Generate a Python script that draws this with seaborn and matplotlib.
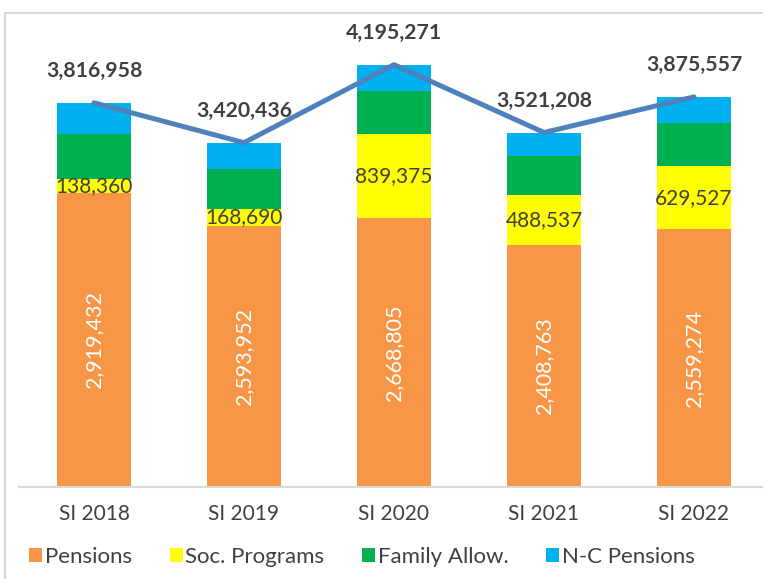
import numpy as np
import pandas as pd
import matplotlib.pyplot as plt
import seaborn as sns
from matplotlib.patches import Patch, Rectangle

# values
years = ["SI 2018", "SI 2019", "SI 2020", "SI 2021", "SI 2022"]
pensions = [2919432, 2593952, 2668805, 2408763, 2559274]
soc_programs = [138360, 168690, 839375, 488537, 629527]
family_allow = [453600, 398600, 422000, 386200, 431600]
nc_pensions = [305566, 259194, 265091, 237708, 255156]
totals = [3816958, 3420436, 4195271, 3521208, 3875557]

series_names = ["Pensions", "Soc. Programs", "Family Allow.", "N-C Pensions"]
colors = ["#F79646", "#FFFF00", "#00B050", "#00B0F0"]
line_color = "#4F81BD"
text_color = "#404040"

sns.set_theme(style="white")
plt.rcParams["font.family"] = ["Lato", "DejaVu Sans"]

df = pd.DataFrame({
    "year": years,
    "Pensions": pensions,
    "Soc. Programs": soc_programs,
    "Family Allow.": family_allow,
    "N-C Pensions": nc_pensions,
})
cum = df[series_names].cumsum(axis=1)

fig = plt.figure(figsize=(7.63, 5.79), dpi=100)
# light frame around the chart area
fig.patches.append(Rectangle((5 / 763, -0.1), 1.2, 1 - 13 / 579 + 0.1,
                             transform=fig.transFigure, fill=False,
                             edgecolor="#D9D9D9", linewidth=1.5))

ax = fig.add_axes([19 / 763, 92 / 579, 750 / 763, 453 / 579])

# stacked bars: draw the tallest cumulative layer first
for name, color in reversed(list(zip(series_names, colors))):
    sns.barplot(x=df["year"], y=cum[name], color=color, width=0.49,
                saturation=1, linewidth=0, ax=ax)

# line of totals
sns.lineplot(x=np.arange(len(years)), y=totals, color=line_color,
             linewidth=3.6, ax=ax)

ax.set_xlim(-0.5, len(years) - 0.5)
ax.set_ylim(0, 4500000)
ax.set_xlabel("")
ax.set_ylabel("")
ax.set_yticks([])
sns.despine(ax=ax, left=True)
ax.spines["bottom"].set_color("#D9D9D9")
ax.spines["bottom"].set_linewidth(1.5)
ax.tick_params(axis="x", length=0, pad=12, labelsize=15, labelcolor=text_color)

for i in range(len(years)):
    ax.text(i, pensions[i] / 2, f"{pensions[i]:,}", rotation=90, ha="center",
            va="center", color="white", fontsize=15.5)
    ax.text(i, pensions[i] + soc_programs[i] / 2, f"{soc_programs[i]:,}",
            ha="center", va="center", color=text_color, fontsize=15)
    ax.annotate(f"{totals[i]:,}", (i, totals[i]), xytext=(0, 23),
                textcoords="offset points", ha="center", va="center",
                color=text_color, fontsize=15.3, fontweight="bold")

handles = [Patch(facecolor=c, edgecolor="none") for c in colors]
fig.legend(handles, series_names, loc="center left",
           bbox_to_anchor=(0.012, 0.038), ncol=4, frameon=False,
           fontsize=16, labelcolor=text_color, handlelength=0.6,
           handleheight=0.6, handletextpad=0.1, columnspacing=1.7)

fig.savefig("out.png", dpi=100)
